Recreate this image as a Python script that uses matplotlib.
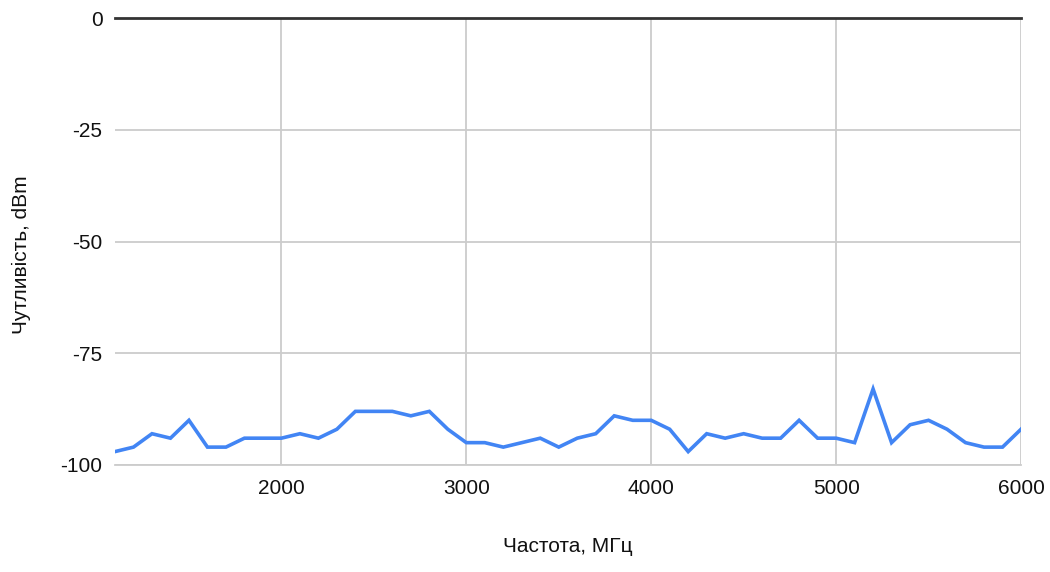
import matplotlib
matplotlib.use("Agg")
import matplotlib.pyplot as plt

plt.rcParams['font.family'] = ['Liberation Sans', 'DejaVu Sans']

freq_mhz = list(range(1100, 6001, 100))
sensitivity_dbm = [
    -97, -96, -93, -94, -90, -96, -96, -94, -94, -94,
    -93, -94, -92, -88, -88, -88, -89, -88, -92, -95,
    -95, -96, -95, -94, -96, -94, -93, -89, -90, -90,
    -92, -97, -93, -94, -93, -94, -94, -90, -94, -94,
    -95, -83, -95, -91, -90, -92, -95, -96, -96, -92,
]
x_ticks = [2000, 3000, 4000, 5000, 6000]
y_ticks = [0, -25, -50, -75, -100]
x_label = "Частота, МГц"
y_label = "Чутливість, dBm"

fig = plt.figure(figsize=(10.5, 5.72), dpi=100)
ax = fig.add_axes([115 / 1050, 1 - 465 / 572, (1021 - 115) / 1050, (465 - 18) / 572])

ax.plot(freq_mhz, sensitivity_dbm, color="#4285f4", linewidth=2.6, zorder=3,
        solid_joinstyle="miter")

ax.set_xlim(1100, 6000)
ax.set_ylim(-100, 0)
ax.set_xticks(x_ticks)
ax.set_yticks(y_ticks)
ax.set_yticklabels([str(v) for v in y_ticks])

ax.grid(True, color="#cccccc", linewidth=1.3, zorder=0)
for s in ["left", "right", "top"]:
    ax.spines[s].set_visible(False)
ax.spines["bottom"].set_color("#cccccc")
ax.spines["bottom"].set_linewidth(1.3)
ax.axhline(0, color="#333333", linewidth=2, zorder=4, clip_on=False)

ax.tick_params(axis="both", length=0, labelsize=15, colors="#111111")
ax.tick_params(axis="y", pad=9)
ax.tick_params(axis="x", pad=10)

ax.set_xlabel(x_label, fontsize=15, labelpad=28, color="#111111")
ax.set_ylabel(y_label, fontsize=15, labelpad=22, color="#111111")
ax.yaxis.set_label_coords(-0.093, 0.47)

fig.savefig("out.png", dpi=100)
